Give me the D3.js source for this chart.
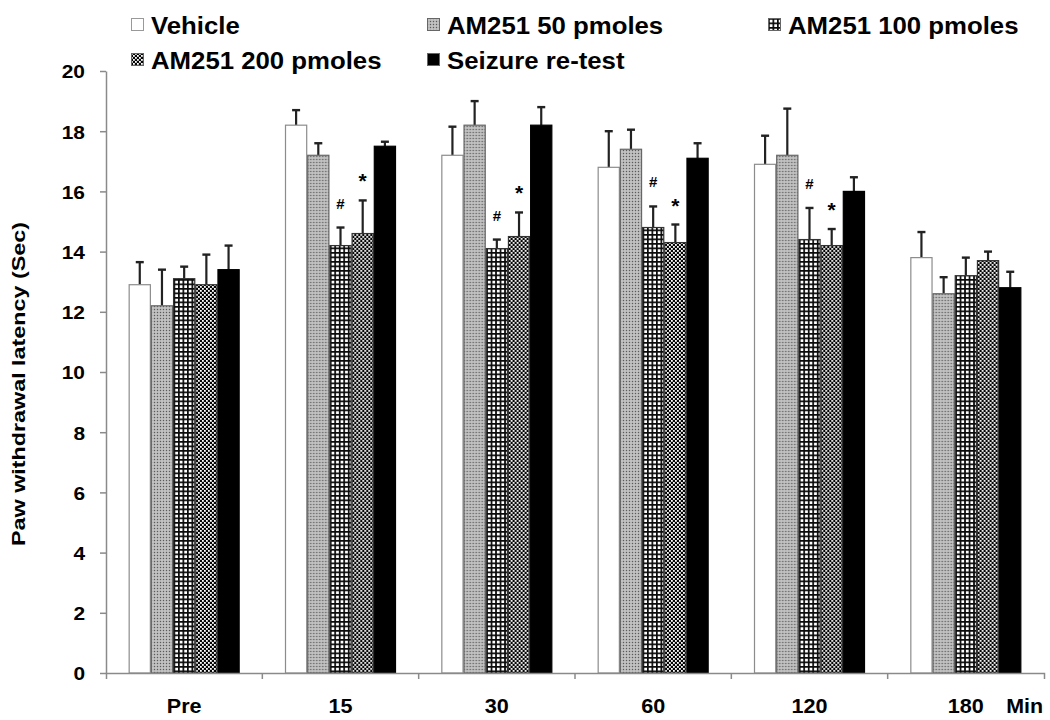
<!DOCTYPE html>
<html>
<head>
<meta charset="utf-8">
<script src="https://cdn.jsdelivr.net/npm/d3@7"></script>
<style>
  html, body { margin: 0; padding: 0; background: #fff; }
  svg { display: block; }
  text { font-family: "Liberation Sans", Arial, sans-serif; font-weight: bold; fill: #000; }
</style>
</head>
<body>
<svg id="chart" width="1050" height="720"></svg>
<script>
// ---------- data ----------
const categories = ["Pre", "15", "30", "60", "120", "180"];
const seriesNames = ["Vehicle", "AM251 50 pmoles", "AM251 100 pmoles", "AM251 200 pmoles", "Seizure re-test"];
const vehicle      = [12.9, 18.2, 17.2, 16.8, 16.9, 13.8];
const vehicleErr   = [0.75, 0.5, 0.95, 1.2, 0.95, 0.85];
const am50         = [12.2, 17.2, 18.2, 17.4, 17.2, 12.6];
const am50Err      = [1.2, 0.4, 0.8, 0.65, 1.55, 0.55];
const am100        = [13.1, 14.2, 14.1, 14.8, 14.4, 13.2];
const am100Err     = [0.4, 0.6, 0.3, 0.7, 1.05, 0.6];
const am200        = [12.9, 14.6, 14.5, 14.3, 14.2, 13.7];
const am200Err     = [1.0, 1.1, 0.8, 0.6, 0.55, 0.3];
const seizure      = [13.4, 17.5, 18.2, 17.1, 16.0, 12.8];
const seizureErr   = [0.8, 0.15, 0.6, 0.5, 0.47, 0.53];
const yTicks       = [0, 2, 4, 6, 8, 10, 12, 14, 16, 18, 20];
const hashGroups   = ["15", "30", "60", "120"];   // "#" over AM251 100 pmoles
const starGroups   = ["15", "30", "60", "120"];   // "*" over AM251 200 pmoles
const yLabel = "Paw withdrawal latency (Sec)";
const xUnit = "Min";

const seriesValues = [vehicle, am50, am100, am200, seizure];
const seriesErrors = [vehicleErr, am50Err, am100Err, am200Err, seizureErr];

// ---------- layout ----------
const svg = d3.select("#chart");
const plotLeft = 106, plotRight = 1044, plotTop = 71, plotBottom = 673;

const x = d3.scaleBand().domain(categories).range([plotLeft, plotRight]).padding(0);
const bw = x.bandwidth();
const xs = d3.scaleBand().domain(seriesNames).range([bw * 0.145, bw * 0.855]).padding(0);
const y = d3.scaleLinear().domain([0, 20]).range([plotBottom, plotTop]);

function stretch(sel, f) {
  sel.each(function () {
    const w = this.getComputedTextLength();
    d3.select(this).attr("textLength", w * f).attr("lengthAdjust", "spacingAndGlyphs");
  });
}
function fitLength(sel, len) {
  sel.attr("textLength", len).attr("lengthAdjust", "spacingAndGlyphs");
}

// ---------- patterns ----------
const defs = svg.append("defs");
const p50 = defs.append("pattern").attr("id", "p50").attr("patternUnits", "userSpaceOnUse")
  .attr("width", 3).attr("height", 3);
p50.append("rect").attr("width", 3).attr("height", 3).attr("fill", "#b2b2b2");
p50.append("rect").attr("x", 0).attr("y", 0).attr("width", 1).attr("height", 1).attr("fill", "#5a5a5a");
p50.append("rect").attr("x", 1.5).attr("y", 1.5).attr("width", 1).attr("height", 1).attr("fill", "#eeeeee");
const p100 = defs.append("pattern").attr("id", "p100").attr("patternUnits", "userSpaceOnUse")
  .attr("width", 4.5).attr("height", 4.5);
p100.append("rect").attr("width", 4.5).attr("height", 4.5).attr("fill", "#fff");
p100.append("rect").attr("x", 0).attr("y", 0).attr("width", 4.5).attr("height", 1.7).attr("fill", "#0a0a0a");
p100.append("rect").attr("x", 0).attr("y", 0).attr("width", 1.7).attr("height", 4.5).attr("fill", "#0a0a0a");
const p200 = defs.append("pattern").attr("id", "p200").attr("patternUnits", "userSpaceOnUse")
  .attr("width", 4).attr("height", 4);
p200.append("rect").attr("width", 4).attr("height", 4).attr("fill", "#050505");
p200.append("rect").attr("x", 0).attr("y", 0).attr("width", 1.8).attr("height", 1.8).attr("fill", "#fff");
p200.append("rect").attr("x", 2).attr("y", 2).attr("width", 1.8).attr("height", 1.8).attr("fill", "#fff");

const fills = ["#ffffff", "url(#p50)", "url(#p100)", "url(#p200)", "#000000"];
const strokes = ["#8c8c8c", "#666", "#333", "#333", "#000"];

// ---------- bars ----------
const groups = svg.append("g").selectAll("g.grp")
  .data(categories).join("g").attr("class", "grp")
  .attr("transform", d => `translate(${x(d)},0)`);

groups.each(function (cat, ci) {
  const g = d3.select(this);
  const rows = seriesNames.map((s, si) => ({
    s, si, v: seriesValues[si][ci], e: seriesErrors[si][ci]
  }));
  const eb = g.selectAll("g.err").data(rows).join("g").attr("class", "err");
  eb.append("line")
    .attr("x1", d => xs(d.s) + xs.bandwidth() / 2)
    .attr("x2", d => xs(d.s) + xs.bandwidth() / 2)
    .attr("y1", d => y(d.v)).attr("y2", d => y(d.v + d.e))
    .attr("stroke", "#222").attr("stroke-width", 2.2);
  eb.append("line")
    .attr("x1", d => xs(d.s) + xs.bandwidth() / 2 - 4)
    .attr("x2", d => xs(d.s) + xs.bandwidth() / 2 + 4)
    .attr("y1", d => y(d.v + d.e)).attr("y2", d => y(d.v + d.e))
    .attr("stroke", "#222").attr("stroke-width", 2.4);
  g.selectAll("rect.bar").data(rows).join("rect").attr("class", "bar")
    .attr("x", d => xs(d.s) + 0.5)
    .attr("width", xs.bandwidth() - 1)
    .attr("y", d => y(d.v))
    .attr("height", d => y(0) - y(d.v))
    .attr("fill", d => fills[d.si])
    .attr("stroke", d => strokes[d.si])
    .attr("stroke-width", 1.2);
});

// ---------- significance marks ----------
const i100 = seriesNames.indexOf("AM251 100 pmoles");
const i200 = seriesNames.indexOf("AM251 200 pmoles");
svg.append("g").selectAll("text").data(hashGroups).join("text")
  .attr("x", d => x(d) + xs(seriesNames[i100]) + xs.bandwidth() / 2)
  .attr("y", d => { const ci = categories.indexOf(d); return y(am100[ci] + am100Err[ci]) - 19; })
  .attr("text-anchor", "middle").attr("font-size", 15).text("#");
svg.append("g").selectAll("text").data(starGroups).join("text")
  .attr("x", d => x(d) + xs(seriesNames[i200]) + xs.bandwidth() / 2)
  .attr("y", d => { const ci = categories.indexOf(d); return y(am200[ci] + am200Err[ci]) - 12; })
  .attr("text-anchor", "middle").attr("font-size", 21).text("*");

// ---------- y axis ----------
const yAxis = svg.append("g").attr("transform", `translate(${plotLeft},0)`)
  .call(d3.axisLeft(y).tickValues(yTicks).tickSize(6).tickPadding(15).tickSizeOuter(0));
yAxis.select(".domain").attr("stroke", "#8a8a8a").attr("stroke-width", 1.5);
yAxis.selectAll(".tick line").attr("stroke", "#8a8a8a").attr("stroke-width", 1.5);
yAxis.selectAll(".tick text").attr("font-size", 19).attr("font-family", null)
  .attr("dy", "0.36em").call(stretch, 1.1);

// ---------- x axis ----------
const xAxis = svg.append("g").attr("transform", `translate(0,${plotBottom})`)
  .call(d3.axisBottom(x).tickSize(0).tickSizeOuter(6).tickFormat(""));
xAxis.select(".domain").attr("stroke", "#8a8a8a").attr("stroke-width", 1.5);
xAxis.append("g").selectAll("line").data(categories.slice(1)).join("line")
  .attr("x1", d => x(d)).attr("x2", d => x(d)).attr("y1", 0).attr("y2", 6)
  .attr("stroke", "#8a8a8a").attr("stroke-width", 1.5);
svg.append("g").selectAll("text").data(categories).join("text")
  .attr("x", d => x(d) + bw / 2).attr("y", 713)
  .attr("text-anchor", "middle").attr("font-size", 20).text(d => d)
  .call(stretch, 1.08);
svg.append("text").attr("x", 1043).attr("y", 713).attr("text-anchor", "end")
  .attr("font-size", 20).text(xUnit).call(stretch, 1.07);

// ---------- y label ----------
svg.append("text")
  .attr("transform", "translate(25,384) rotate(-90)")
  .attr("text-anchor", "middle").attr("font-size", 18).text(yLabel)
  .call(fitLength, 324);

// ---------- legend ----------
const legendPos = [[131, 18], [427, 18], [768, 18], [131, 53], [427, 53]];
const lg = svg.append("g").selectAll("g").data(seriesNames).join("g")
  .attr("transform", (d, i) => `translate(${legendPos[i][0]},${legendPos[i][1]})`);
lg.append("rect").attr("x", 0.5).attr("y", 0.5).attr("width", 12).attr("height", 12)
  .attr("fill", (d, i) => fills[i]).attr("stroke", (d, i) => i === 0 ? "#999" : "#666").attr("stroke-width", 1);
lg.append("text").attr("x", 20).attr("y", 15.5).attr("font-size", 23).text(d => d)
  .call(stretch, 1.12);
</script>
</body>
</html>
